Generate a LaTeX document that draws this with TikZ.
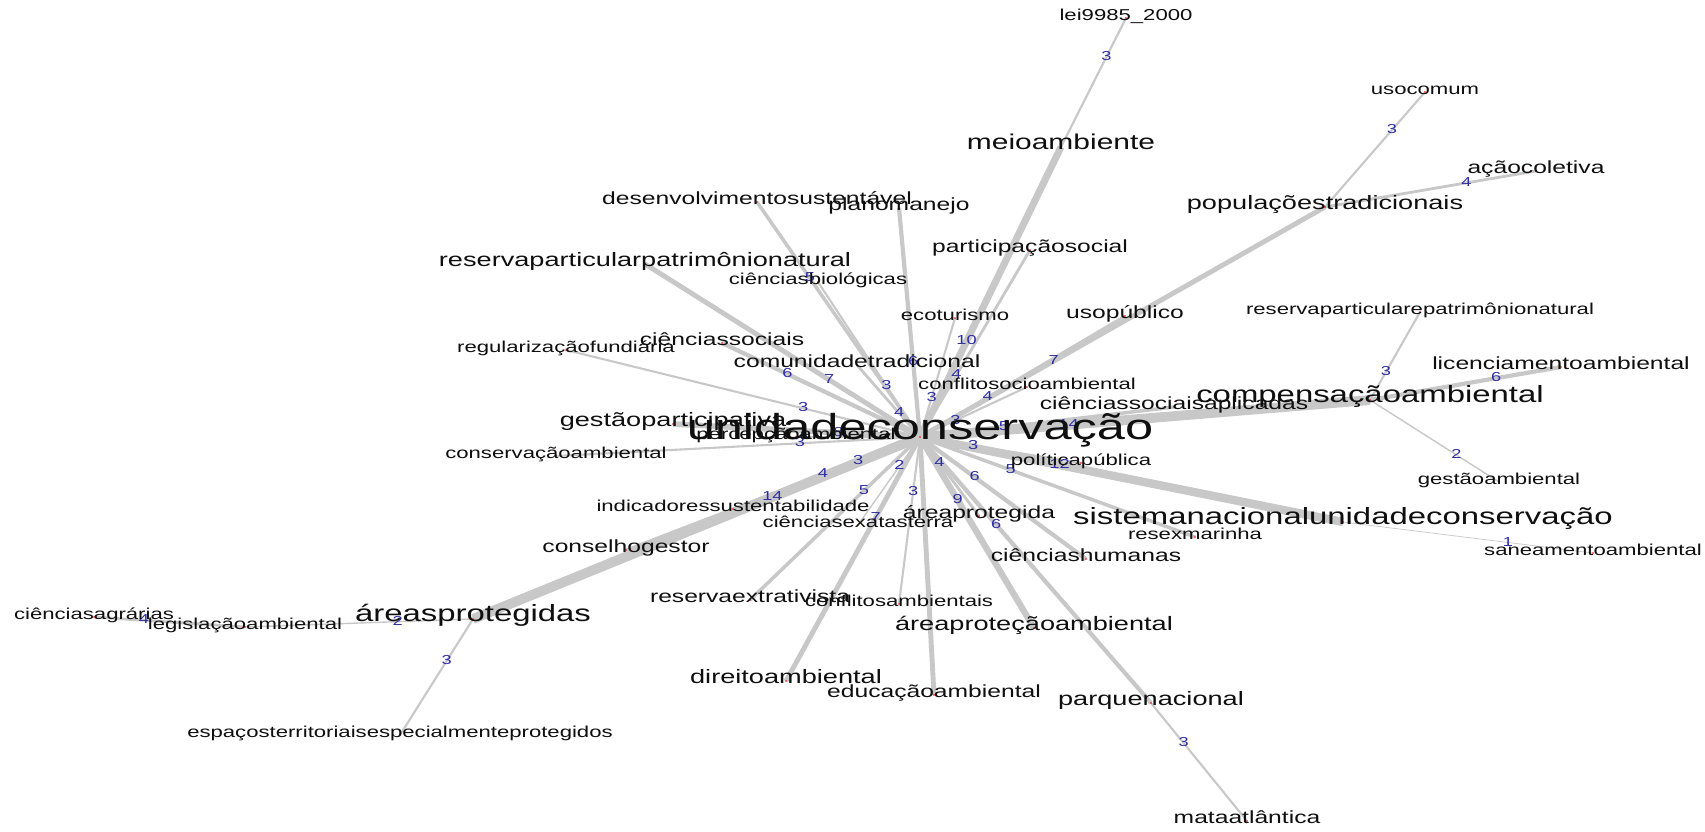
\documentclass[tikz,border=0pt]{standalone}
\usepackage{fontspec}
\newfontfamily\netfont[FakeStretch=1.4]{Liberation Sans}
\definecolor{edgegray}{RGB}{200,200,200}
\definecolor{elabblue}{RGB}{45,45,165}
\definecolor{vlabel}{RGB}{15,15,15}
\pgfdeclarelayer{elabels}
\pgfdeclarelayer{vlabels}
\pgfsetlayers{main,elabels,vlabels}
\tikzset{
  edgeline/.style={draw=edgegray, line cap=butt},
  elab/.style={text=elabblue, inner sep=0pt, text height=0.72em, text depth=0pt,
    font=\netfont\fontsize{13}{13}\selectfont},
  vlab/.style={text=vlabel, inner sep=0pt, text height=0.72em, text depth=0.2em},
  fs/.style={font=\netfont\fontsize{15.8}{15.8}\selectfont},
  fm/.style={font=\netfont\fontsize{17.6}{17.6}\selectfont},
  fl/.style={font=\netfont\fontsize{19.4}{19.4}\selectfont},
  fxl/.style={font=\netfont\fontsize{21.4}{21.4}\selectfont},
  fxxl/.style={font=\netfont\fontsize{23.5}{23.5}\selectfont},
  fhub/.style={font=\netfont\fontsize{36.1}{36.1}\selectfont},
  vdot/.style={fill=red, draw=none, circle, inner sep=0pt, minimum size=1.6pt}
}
% weighted edge: width grows with the weight, weight printed along the edge
\newcommand\netedge[4]{%
  \draw[edgeline, line width=#3*0.7pt] (#1) -- (#2);
  \begin{pgfonlayer}{elabels}
    \path (#1) -- node[elab, pos=#4] {#3} (#2);
  \end{pgfonlayer}}
% vertex: red marker with its word centred on it
\newcommand\vtx[3]{%
  \begin{pgfonlayer}{vlabels}
    \node[vdot] at (#1) {};
    \node[vlab, #2] (#1-l) at (#1) {#3};
  \end{pgfonlayer}}
\begin{document}
\begin{tikzpicture}[x=1pt,y=-1pt]
\fill[white] (0,0) rectangle (1705,831);
\useasboundingbox (0,0) rectangle (1705,831);

% vertex positions
\coordinate (uc) at (920,437);
\coordinate (meio) at (1061,147);
\coordinate (lei) at (1126,18);
\coordinate (usocomum) at (1425,92);
\coordinate (acao) at (1536,171);
\coordinate (pop) at (1325,207);
\coordinate (desenv) at (757,202);
\coordinate (plano) at (899,208);
\coordinate (rppn) at (645,264);
\coordinate (cbio) at (818,282);
\coordinate (partsoc) at (1030,250);
\coordinate (ecotur) at (955,318);
\coordinate (comtrad) at (857,365);
\coordinate (csoc) at (722,343);
\coordinate (regfund) at (566,350);
\coordinate (gestpart) at (673,424);
\coordinate (percep) at (796,437);
\coordinate (consamb) at (556,456);
\coordinate (indic) at (733,509);
\coordinate (conselho) at (626,550);
\coordinate (areas) at (473,619);
\coordinate (cagr) at (94,617);
\coordinate (legis) at (245,627);
\coordinate (espacos) at (400,735);
\coordinate (cexatas) at (858,525);
\coordinate (resext) at (750,600);
\coordinate (direito) at (786,681);
\coordinate (confamb) at (899,604);
\coordinate (educ) at (934,695);
\coordinate (areaprot) at (979,516);
\coordinate (apa) at (1034,628);
\coordinate (chum) at (1086,559);
\coordinate (parque) at (1151,703);
\coordinate (mata) at (1247,821);
\coordinate (polpub) at (1081,463);
\coordinate (resex) at (1195,537);
\coordinate (snuc) at (1343,522);
\coordinate (saneam) at (1593,553);
\coordinate (comp) at (1370,400);
\coordinate (rppn2) at (1420,312);
\coordinate (licenc) at (1561,367);
\coordinate (gestamb) at (1499,482);
\coordinate (csocap) at (1174,407);
\coordinate (confsocio) at (1027,387);
\coordinate (usopub) at (1125,316);

% edges
\netedge{uc}{meio}{10}{0.33}
\netedge{meio}{lei}{3}{0.7}
\netedge{uc}{desenv}{5}{0.675}
\netedge{uc}{cbio}{3}{0.33}
\netedge{uc}{plano}{6}{0.33}
\netedge{uc}{partsoc}{4}{0.33}
\netedge{uc}{ecotur}{3}{0.33}
\netedge{uc}{comtrad}{4}{0.33}
\netedge{uc}{csoc}{6}{0.67}
\netedge{uc}{rppn}{7}{0.33}
\netedge{uc}{regfund}{3}{0.33}
\netedge{uc}{gestpart}{8}{0.33}
\draw[edgeline, line width=2.8pt] (uc) -- (percep);
\netedge{uc}{consamb}{3}{0.33}
\netedge{uc}{indic}{3}{0.33}
\netedge{uc}{conselho}{4}{0.33}
\netedge{uc}{areas}{14}{0.33}
\netedge{areas}{legis}{2}{0.33}
\netedge{legis}{cagr}{4}{0.67}
\netedge{areas}{espacos}{3}{0.36}
\netedge{uc}{cexatas}{2}{0.33}
\netedge{uc}{resext}{5}{0.33}
\netedge{uc}{direito}{7}{0.33}
\netedge{uc}{confamb}{3}{0.33}
\draw[edgeline, line width=4.9pt] (uc) -- (educ);
\netedge{uc}{areaprot}{4}{0.33}
\netedge{uc}{apa}{9}{0.33}
\netedge{uc}{chum}{6}{0.33}
\netedge{uc}{parque}{6}{0.33}
\netedge{parque}{mata}{3}{0.34}
\netedge{uc}{polpub}{3}{0.33}
\netedge{uc}{resex}{5}{0.33}
\netedge{uc}{snuc}{12}{0.33}
\netedge{snuc}{saneam}{1}{0.66}
\netedge{uc}{comp}{14}{0.33}
\netedge{comp}{rppn2}{3}{0.32}
\netedge{comp}{licenc}{6}{0.66}
\netedge{comp}{gestamb}{2}{0.67}
\netedge{uc}{csocap}{5}{0.33}
\netedge{uc}{confsocio}{3}{0.33}
\netedge{uc}{usopub}{4}{0.33}
\netedge{uc}{pop}{7}{0.33}
\netedge{pop}{usocomum}{3}{0.67}
\netedge{pop}{acao}{4}{0.67}

% vertices
\vtx{meio}{fxl}{meioambiente}
\vtx{lei}{fs}{lei9985\_2000}
\vtx{usocomum}{fs}{usocomum}
\vtx{acao}{fm}{açãocoletiva}
\vtx{pop}{fl}{populaçõestradicionais}
\vtx{desenv}{fm}{desenvolvimentosustentável}
\vtx{plano}{fm}{planomanejo}
\vtx{rppn}{fl}{reservaparticularpatrimônionatural}
\vtx{cbio}{fs}{ciênciasbiológicas}
\vtx{partsoc}{fm}{participaçãosocial}
\vtx{ecotur}{fs}{ecoturismo}
\vtx{comtrad}{fm}{comunidadetradicional}
\vtx{csoc}{fm}{ciênciassociais}
\vtx{regfund}{fs}{regularizaçãofundiária}
\vtx{gestpart}{fl}{gestãoparticipativa}
\vtx{percep}{fs}{percepçãoambiental}
\vtx{consamb}{fs}{conservaçãoambiental}
\vtx{indic}{fs}{indicadoressustentabilidade}
\vtx{conselho}{fm}{conselhogestor}
\vtx{areas}{fxxl}{áreasprotegidas}
\vtx{cagr}{fs}{ciênciasagrárias}
\vtx{legis}{fs}{legislaçãoambiental}
\vtx{espacos}{fs}{espaçosterritoriaisespecialmenteprotegidos}
\vtx{cexatas}{fs}{ciênciasexatasterra}
\vtx{resext}{fm}{reservaextrativista}
\vtx{direito}{fl}{direitoambiental}
\vtx{confamb}{fs}{conflitosambientais}
\vtx{educ}{fm}{educaçãoambiental}
\vtx{areaprot}{fm}{áreaprotegida}
\vtx{apa}{fl}{áreaproteçãoambiental}
\vtx{chum}{fm}{ciênciashumanas}
\vtx{parque}{fl}{parquenacional}
\vtx{mata}{fm}{mataatlântica}
\vtx{polpub}{fs}{políticapública}
\vtx{resex}{fs}{resexmarinha}
\vtx{snuc}{fxxl}{sistemanacionalunidadeconservação}
\vtx{saneam}{fs}{saneamentoambiental}
\vtx{comp}{fxxl}{compensaçãoambiental}
\vtx{rppn2}{fs}{reservaparticularepatrimônionatural}
\vtx{licenc}{fm}{licenciamentoambiental}
\vtx{gestamb}{fs}{gestãoambiental}
\vtx{csocap}{fm}{ciênciassociaisaplicadas}
\vtx{confsocio}{fs}{conflitosocioambiental}
\vtx{usopub}{fm}{usopúblico}
\vtx{uc}{fhub}{unidadeconservação}
\end{tikzpicture}
\end{document}
